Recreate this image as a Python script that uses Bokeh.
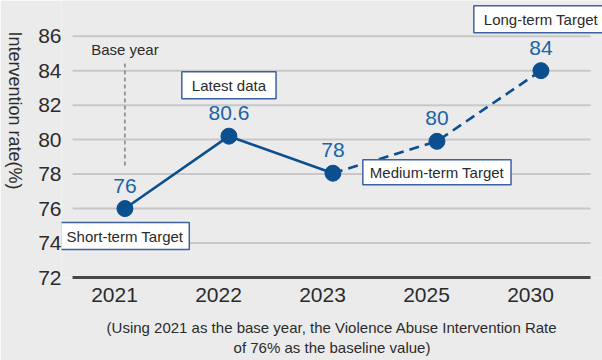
import numpy as np
from bokeh.plotting import figure
from bokeh.models import Label, FixedTicker, Range1d
from bokeh.embed import file_html
from bokeh.resources import INLINE

# ---- data ----
years = ["2021", "2022", "2023", "2025", "2030"]
rates = [76.0, 80.2, 78.05, 79.9, 84.0]          # marker heights as drawn
rate_labels = ["76", "80.6", "78", "80", "84"]   # printed values
y_ticks = [72, 74, 76, 78, 80, 82, 84, 86]
callout_years = ["2021", "2022", "2025", "2030"]
callout_texts = ["Short-term Target", "Latest data", "Medium-term Target", "Long-term Target"]
base_year = "2021"
base_year_text = "Base year"
y_title = "Intervention rate(%)"
caption = ("(Using 2021 as the base year, the Violence Abuse Intervention Rate\n"
           "of 76% as the baseline value)")

# ---- styles ----
BG = "#ebebeb"
LINE = "#0c4f8f"
VAL = "#2063a6"
BOX = "#3d62a0"
TXT = "#2b2b2b"
GRID = "#c8c8c8"
FONT = "Liberation Sans"

idx = np.arange(len(years))
px = idx + 0.1   # marker positions (year labels sit slightly left of markers)
ypos = dict(zip(years, rates))
xpos = dict(zip(years, px))

# drawing area of the grid (data units); the frame is a bit wider so call-outs can overhang
gx0, gx1 = -0.404, 4.577

p = figure(width=602, height=360, output_backend="svg", toolbar_location=None,
           x_range=Range1d(-0.510, 4.692), y_range=Range1d(72, 88.07),
           min_border_left=61, min_border_right=0, min_border_top=0, min_border_bottom=83)
p.background_fill_color = BG
p.border_fill_color = BG
p.outline_line_color = None

# grid lines across the grid area only
gy = y_ticks[1:]
p.segment(x0=[gx0] * len(gy), y0=gy, x1=[gx1] * len(gy), y1=gy,
          line_color=GRID, line_width=2)
p.xgrid.grid_line_color = None
p.ygrid.grid_line_color = None

# axes
p.xaxis.ticker = FixedTicker(ticks=list(idx))
p.xaxis.major_label_overrides = {int(i): y for i, y in zip(idx, years)}
p.xaxis.bounds = (gx0, gx1)
p.xaxis.axis_line_color = "#474747"
p.xaxis.axis_line_width = 3
p.xaxis.major_tick_line_color = None
p.xaxis.minor_tick_line_color = None
p.xaxis.major_tick_out = 0
p.xaxis.major_tick_in = 0
p.xaxis.major_label_standoff = 10
p.xaxis.major_label_text_font = FONT
p.xaxis.major_label_text_font_size = "21px"
p.xaxis.major_label_text_color = TXT
p.xaxis.axis_label = caption
p.xaxis.axis_label_standoff = 14
p.xaxis.axis_label_text_font = FONT
p.xaxis.axis_label_text_font_size = "15px"
p.xaxis.axis_label_text_font_style = "normal"
p.xaxis.axis_label_text_color = TXT

p.yaxis.ticker = FixedTicker(ticks=y_ticks)
p.yaxis.axis_line_color = None
p.yaxis.major_tick_line_color = None
p.yaxis.minor_tick_line_color = None
p.yaxis.major_tick_out = 0
p.yaxis.major_tick_in = 0
p.yaxis.major_label_standoff = 0
p.yaxis.major_label_text_font = FONT
p.yaxis.major_label_text_font_size = "21px"
p.yaxis.major_label_text_color = TXT

# y title, reading top to bottom, placed in the left side panel (not clipped to the frame)
p.add_layout(Label(x=-1, y=277 - 110, x_units="screen", y_units="screen",
                   text=y_title, angle=-np.pi / 2, text_align="center",
                   text_baseline="middle", text_font=FONT, text_font_size="18px",
                   text_color=TXT), "left")

# base-year marker line
bx = xpos[base_year]
p.segment(x0=[bx], y0=[78.5], x1=[bx], y1=[84.42], line_color="#6a6a6a",
          line_width=1.2, line_dash="4 3")
p.add_layout(Label(x=bx, y=85.23, text=base_year_text, text_align="center",
                   text_baseline="middle", text_font=FONT, text_font_size="15px",
                   text_color=TXT))

# actual (solid) and target (dashed) line
p.line(px[:3], rates[:3], line_color=LINE, line_width=2.6)
p.line(px[2:], rates[2:], line_color=LINE, line_width=2.6, line_dash="10 6")
p.scatter(px, rates, size=16, fill_color=LINE, line_color=LINE)

# value labels
for x, y, t in zip(px, rates, rate_labels):
    p.add_layout(Label(x=x, y=y, y_offset=23, text=t, text_align="center",
                       text_baseline="middle", text_font=FONT, text_font_size="21px",
                       text_color=VAL))

# call-out boxes
offsets = [-27.5, 51, -31, 51.5]
pads = [(6, 5), (10, 5), (7, 4), (10, 5)]
for yr, t, off, pad in zip(callout_years, callout_texts, offsets, pads):
    p.add_layout(Label(x=xpos[yr], y=ypos[yr], y_offset=off, text=t,
                       text_align="center", text_baseline="middle",
                       text_font=FONT, text_font_size="15px", text_color=TXT,
                       background_fill_color="white", border_line_color=BOX,
                       border_line_width=1.5, padding=pad))

open("out.html", "w").write(file_html(p, INLINE))
